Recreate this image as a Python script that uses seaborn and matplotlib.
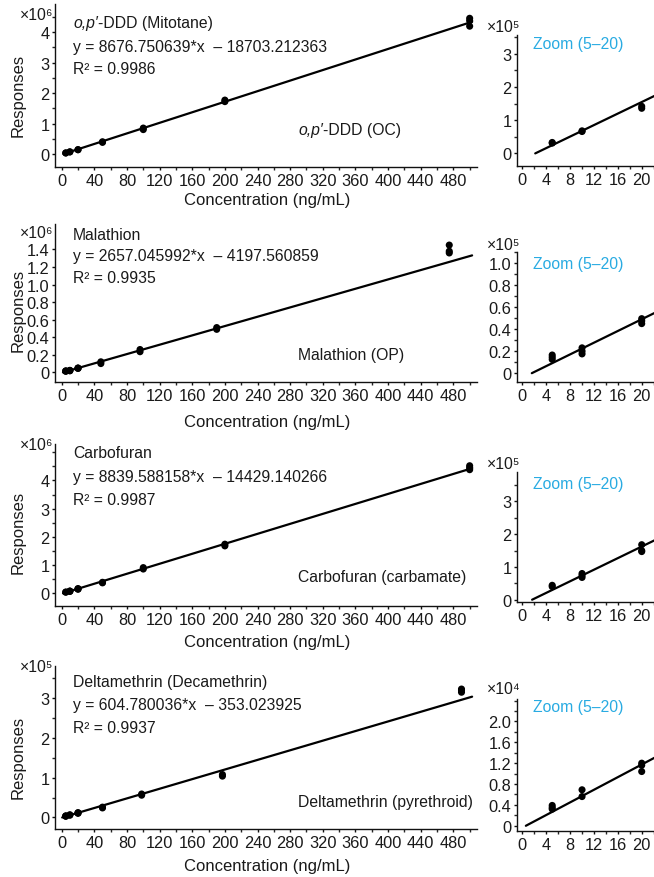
import numpy as np
import pandas as pd
import matplotlib
matplotlib.use('Agg')
import matplotlib.pyplot as plt
from matplotlib.ticker import FixedLocator, MultipleLocator, FuncFormatter
import seaborn as sns

# ---- data ----
italic_part = ["o,p′", None, None, None]
names = ["-DDD (Mitotane)", "Malathion", "Carbofuran", "Deltamethrin (Decamethrin)"]
classes = ["-DDD (OC)", "Malathion (OP)", "Carbofuran (carbamate)", "Deltamethrin (pyrethroid)"]
slopes = [8676.750639, 2657.045992, 8839.588158, 604.780036]
intercepts = [-18703.212363, -4197.560859, -14429.140266, -353.023925]
r2 = ["0.9986", "0.9935", "0.9987", "0.9937"]

# concentration levels (ng/mL) as placed in each panel
conc_ddd = [5, 10, 20, 50, 100, 200, 500]
conc_mal = [5, 10, 20, 48, 96, 190, 475]
conc_carb = [5, 10, 20, 50, 100, 200, 500]
conc_delta = [5, 10, 20, 50, 98, 197, 490]

ddd_resp = [[31000, 33000], [66000, 68000], [136000, 142000], [380000, 400000],
            [800000, 850000], [1720000, 1770000], [4200000, 4380000, 4460000]]
mal_resp = [[12500, 14500, 16500], [17500, 20000, 23000], [45000, 47500, 49500],
            [100000, 120000], [235000, 260000], [490000, 510000], [1360000, 1380000, 1450000]]
carb_resp = [[40000, 44000], [68000, 74000, 80000], [147000, 150000, 168000],
             [370000, 390000], [860000, 910000], [1680000, 1740000], [4380000, 4450000, 4520000]]
delta_resp = [[3200, 3500, 3900], [5600, 6900], [10400, 11600, 12000],
              [24000, 26000], [56000, 59000], [104000, 108000], [315000, 320000, 323000]]

x_ticks = [0, 40, 80, 120, 160, 200, 240, 280, 320, 360, 400, 440, 480]
zoom_x_ticks = [0, 4, 8, 12, 16, 20]
main_exp = [6, 6, 6, 5]
zoom_exp = [5, 5, 5, 4]
main_yticks = [[0, 1, 2, 3, 4], [0, 0.2, 0.4, 0.6, 0.8, 1.0, 1.2, 1.4], [0, 1, 2, 3, 4], [0, 1, 2, 3]]
zoom_yticks = [[0, 1, 2, 3], [0, 0.2, 0.4, 0.6, 0.8, 1.0], [0, 1, 2, 3], [0, 0.4, 0.8, 1.2, 1.6, 2.0]]

rows = []
for comp, cs, resp in [(0, conc_ddd, ddd_resp), (1, conc_mal, mal_resp),
                       (2, conc_carb, carb_resp), (3, conc_delta, delta_resp)]:
    for c, reps in zip(cs, resp):
        for r in reps:
            rows.append((comp, c, r))
df = pd.DataFrame(rows, columns=["compound", "conc", "resp"])

# ---- layout (pixels of a 654x878 canvas) ----
W, H = 654, 878
main_px = [(5, 168), (225, 383), (445, 607), (667, 830)]
zoom_px = [(36, 167), (253, 383), (473, 603), (700, 832)]
main_ylim = [(-0.43, 4.93), (-0.11, 1.69), (-0.45, 5.29), (-0.29, 3.81)]
zoom_ylim = [(-0.38, 3.57), (-0.08, 1.10), (-0.07, 3.9), (-0.10, 2.43)]
main_minor = [0.5, None, 0.5, 0.5]
zoom_minor = [0.5, 0.1, 0.5, 0.2]
text_y = [(23, 47, 69), (235, 256, 278), (453, 477, 500), (682, 705, 728)]
class_y = [130, 355, 577, 802]
zoom_text_y = [45, 265, 485, 708]
exp_y = [15, 233, 446, 668]
zexp_y = [27, 245, 465, 689]
ylab_y = [95, 310, 532, 757]
xlab_y = [201, 422, 643, 867]

sns.set_style('ticks')
plt.rcParams['font.family'] = ['Liberation Sans Narrow', 'Liberation Sans', 'DejaVu Sans']
plt.rcParams['axes.linewidth'] = 1.0
plt.rcParams['axes.edgecolor'] = '#111111'
for a in ['xtick', 'ytick']:
    plt.rcParams[f'{a}.major.size'] = 2.5
    plt.rcParams[f'{a}.minor.size'] = 2.5
    plt.rcParams[f'{a}.major.width'] = 1.0
    plt.rcParams[f'{a}.minor.width'] = 1.0
    plt.rcParams[f'{a}.major.pad'] = 1.5

FS = 11.3
TFS = 11.8
INK = '#1a1a1a'
fig = plt.figure(figsize=(W / 100, H / 100), dpi=100)


def fx(x):
    return x / W


def fy(y):
    return 1 - y / H


def fmt(step):
    def f(v, pos):
        if abs(v) < 1e-9:
            return "0"
        return f"{v:.0f}" if step >= 1 else f"{v:.1f}"
    return f


def style_axis(ax, xt, yt, minor_x, minor_y, scale):
    ax.xaxis.set_major_locator(FixedLocator(xt))
    ax.xaxis.set_minor_locator(MultipleLocator(minor_x))
    ax.yaxis.set_major_locator(FixedLocator([v * scale for v in yt]))
    if minor_y:
        ax.yaxis.set_minor_locator(MultipleLocator(minor_y * scale))
    step = yt[1] - yt[0]
    ax.yaxis.set_major_formatter(FuncFormatter(lambda v, p: fmt(step)(v / scale, p)))
    ax.tick_params(labelsize=TFS, colors='#111111', labelcolor=INK)
    for s in ['top', 'right']:
        ax.spines[s].set_visible(False)
    ax.set_xlabel("")
    ax.set_ylabel("")


for i in range(4):
    sub = df[df.compound == i]
    top, bot = main_px[i]
    ax = fig.add_axes([fx(55), fy(bot), fx(477 - 55), (bot - top) / H])
    scale = 10 ** main_exp[i]
    sns.scatterplot(data=sub, x="conc", y="resp", color="black", s=26,
                    edgecolor="none", ax=ax, zorder=3)
    x0 = -intercepts[i] / slopes[i]
    xs = np.array([x0, 503.0])
    ax.plot(xs, slopes[i] * xs + intercepts[i], color="black", lw=1.6, zorder=2)
    ax.set_xlim(-8.2, 509)
    ax.set_ylim(main_ylim[i][0] * scale, main_ylim[i][1] * scale)
    style_axis(ax, x_ticks, main_yticks[i], 20, main_minor[i], scale)

    # zoom panel
    ztop, zbot = zoom_px[i]
    az = fig.add_axes([fx(517), fy(zbot), fx(654 - 517), (zbot - ztop) / H])
    zscale = 10 ** zoom_exp[i]
    zsub = sub[sub.conc <= 20]
    sns.scatterplot(data=zsub, x="conc", y="resp", color="black", s=26,
                    edgecolor="none", ax=az, zorder=3)
    zs = np.array([x0, 23.0])
    az.plot(zs, slopes[i] * zs + intercepts[i], color="black", lw=1.6, zorder=2)
    az.set_xlim(-0.9, 22.06)
    az.set_ylim(zoom_ylim[i][0] * zscale, zoom_ylim[i][1] * zscale)
    style_axis(az, zoom_x_ticks, zoom_yticks[i], 2, zoom_minor[i], zscale)

    # texts
    ty = text_y[i]
    lx = 73
    if italic_part[i]:
        t1 = fig.text(fx(lx), fy(ty[0] + 5), italic_part[i], style='italic',
                      fontsize=FS, va='baseline', color=INK)
        fig.canvas.draw()
        bb = t1.get_window_extent()
        fig.text(bb.x1 / fig.bbox.width, fy(ty[0] + 5), names[i], fontsize=FS,
                 va='baseline', color=INK)
        t2 = fig.text(fx(298), fy(class_y[i] + 5), italic_part[i], style='italic',
                      fontsize=FS, va='baseline', color=INK)
        fig.canvas.draw()
        bb = t2.get_window_extent()
        fig.text(bb.x1 / fig.bbox.width, fy(class_y[i] + 5), classes[i], fontsize=FS,
                 va='baseline', color=INK)
    else:
        fig.text(fx(lx), fy(ty[0] + 5), names[i], fontsize=FS, va='baseline', color=INK)
        fig.text(fx(298), fy(class_y[i] + 5), classes[i], fontsize=FS, va='baseline', color=INK)
    fig.text(fx(lx), fy(ty[1] + 5), f"y = {slopes[i]:.6f}*x  – {abs(intercepts[i]):.6f}",
             fontsize=FS, va='baseline', color=INK)
    fig.text(fx(lx), fy(ty[2] + 5), f"R² = {r2[i]}", fontsize=FS, va='baseline', color=INK)

    sup = {4: "⁴", 5: "⁵", 6: "⁶"}
    fig.text(fx(53), fy(exp_y[i]), f"×10{sup[main_exp[i]]}", fontsize=FS, ha='right',
             va='center', color=INK)
    fig.text(fx(487), fy(zexp_y[i]), f"×10{sup[zoom_exp[i]]}", fontsize=FS, ha='left',
             va='center', color=INK)
    fig.text(fx(533), fy(zoom_text_y[i]), "Zoom (5–20)", fontsize=FS, color="#29abe2",
             ha='left', va='center')
    fig.text(fx(18), fy(ylab_y[i]), "Responses", fontsize=FS + 0.7, rotation=90,
             ha='center', va='center', color=INK)
    fig.text(fx(267), fy(xlab_y[i]), "Concentration (ng/mL)", fontsize=FS + 0.7,
             ha='center', va='center', color=INK)

fig.savefig("out.png", dpi=100)
